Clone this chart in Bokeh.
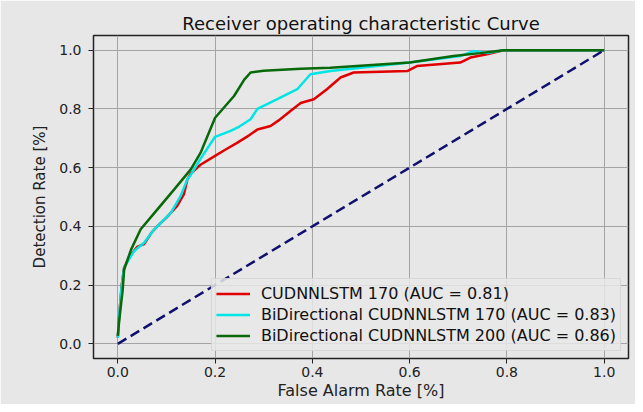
from bokeh.plotting import figure
from bokeh.models import FixedTicker, NumeralTickFormatter, Range1d
from bokeh.embed import file_html
from bokeh.resources import INLINE

# Data
red_fpr = [0.0, 0.003, 0.008, 0.013, 0.025, 0.04, 0.054, 0.07, 0.081, 0.1, 0.122, 0.136,
           0.143, 0.15, 0.17, 0.2, 0.22, 0.246, 0.27, 0.287, 0.314, 0.33, 0.355, 0.376,
           0.403, 0.43, 0.458, 0.485, 0.595, 0.615, 0.704, 0.725, 0.759, 0.793, 1.0]
red_tpr = [0.02, 0.1, 0.2, 0.26, 0.3, 0.33, 0.34, 0.38, 0.40, 0.43, 0.47, 0.51,
           0.56, 0.58, 0.61, 0.64, 0.66, 0.685, 0.71, 0.73, 0.742, 0.76, 0.793, 0.82,
           0.833, 0.867, 0.907, 0.924, 0.929, 0.946, 0.958, 0.975, 0.986, 1.0, 1.0]

cyan_fpr = [0.0, 0.003, 0.008, 0.013, 0.033, 0.054, 0.075, 0.109, 0.129, 0.143, 0.15, 0.17,
            0.2, 0.232, 0.25, 0.273, 0.287, 0.328, 0.369, 0.396, 0.437, 0.6, 0.704, 0.731,
            0.76, 0.793, 1.0]
cyan_tpr = [0.02, 0.1, 0.2, 0.26, 0.315, 0.344, 0.39, 0.446, 0.503, 0.56, 0.575, 0.63,
            0.705, 0.725, 0.74, 0.765, 0.80, 0.833, 0.867, 0.918, 0.929, 0.958, 0.98, 0.997,
            0.99, 1.0, 1.0]

green_fpr = [0.0, 0.003, 0.01, 0.013, 0.027, 0.047, 0.081, 0.116, 0.133, 0.15, 0.17, 0.2,
             0.239, 0.26, 0.273, 0.3, 0.376, 0.437, 0.6, 0.69, 0.745, 0.793, 1.0]
green_tpr = [0.027, 0.082, 0.184, 0.253, 0.32, 0.39, 0.457, 0.526, 0.56, 0.594, 0.65, 0.77,
             0.844, 0.90, 0.924, 0.93, 0.937, 0.94, 0.958, 0.98, 0.99, 1.0, 1.0]

diag_x = [0.0, 1.0]
diag_y = [0.0, 1.0]

labels = ["CUDNNLSTM 170 (AUC = 0.81)",
          "BiDirectional CUDNNLSTM 170 (AUC = 0.83)",
          "BiDirectional CUDNNLSTM 200 (AUC = 0.86)"]
ticks = [0.0, 0.2, 0.4, 0.6, 0.8, 1.0]

BG = "#e7e7e7"
FONT = "DejaVu Sans"

p = figure(width=635, height=404, output_backend="svg", toolbar_location=None,
           title="Receiver operating characteristic Curve",
           x_range=Range1d(-0.05, 1.05), y_range=Range1d(-0.05, 1.05),
           min_border_left=93, min_border_right=7, min_border_top=35, min_border_bottom=46)

p.background_fill_color = BG
p.border_fill_color = BG
p.outline_line_color = "#222222"
p.outline_line_width = 1.5

p.title.align = "center"
p.title.text_font = FONT
p.title.text_font_size = "18px"
p.title.text_font_style = "normal"
p.title.text_color = "#111111"
p.title.standoff = 4

for ax in (p.xaxis, p.yaxis):
    ax.ticker = FixedTicker(ticks=ticks)
    ax.formatter = NumeralTickFormatter(format="0.0")
    ax.major_label_text_font = FONT
    ax.major_label_text_font_size = "14px"
    ax.major_label_text_color = "#222222"
    ax.axis_label_text_font = FONT
    ax.axis_label_text_font_style = "normal"
    ax.axis_label_text_color = "#222222"
    ax.axis_line_color = None
    ax.major_tick_in = 0
    ax.major_tick_out = 5
    ax.minor_tick_line_color = None
    ax.major_tick_line_color = "#222222"

p.xaxis.axis_label = "False Alarm Rate [%]"
p.yaxis.axis_label = "Detection Rate [%]"
p.xaxis.axis_label_text_font_size = "16px"
p.yaxis.axis_label_text_font_size = "15px"
p.xaxis.major_label_standoff = 3
p.yaxis.major_label_standoff = 7
p.xaxis.axis_label_standoff = 1
p.yaxis.axis_label_standoff = 7

p.xgrid.ticker = FixedTicker(ticks=ticks)
p.ygrid.ticker = FixedTicker(ticks=ticks)
p.grid.grid_line_color = "#a4a4a4"
p.grid.grid_line_width = 1

p.line(red_fpr, red_tpr, line_color="#e00000", line_width=2.5, legend_label=labels[0])
p.line(cyan_fpr, cyan_tpr, line_color="#00e5e5", line_width=2.5, legend_label=labels[1])
p.line(green_fpr, green_tpr, line_color="#08680a", line_width=2.5, legend_label=labels[2])
p.line(diag_x, diag_y, line_color="#10106e", line_width=2.5, line_dash="10 5")

p.legend.location = "bottom_right"
p.legend.margin = 7
p.legend.padding = 4
p.legend.spacing = 0
p.legend.label_height = 21
p.legend.glyph_height = 21
p.legend.glyph_width = 34
p.legend.label_standoff = 11
p.legend.label_text_font = FONT
p.legend.label_text_font_size = "16px"
p.legend.label_text_color = "#111111"
p.legend.background_fill_color = BG
p.legend.background_fill_alpha = 0.85
p.legend.border_line_color = "#c8c8c8"

open("out.html", "w").write(file_html(p, INLINE))
